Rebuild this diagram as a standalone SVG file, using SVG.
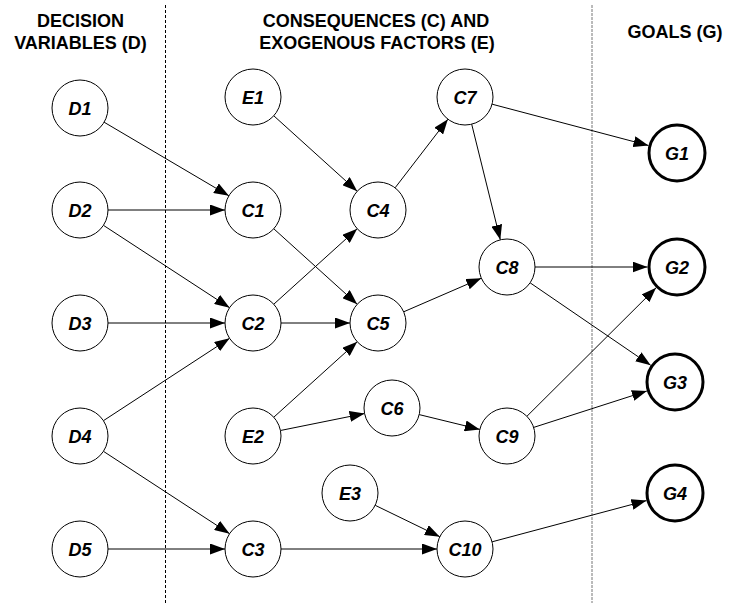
<svg xmlns="http://www.w3.org/2000/svg" width="730" height="605" viewBox="0 0 730 605">
<style>
.hdr{font-family:"Liberation Sans",Arial,sans-serif;font-size:18px;font-weight:bold;fill:#000;text-anchor:middle}
.n circle{fill:#fff;stroke:#000;stroke-width:1}
.g circle{fill:#fff;stroke:#000;stroke-width:3}
.lbl{font-family:"Liberation Sans",Arial,sans-serif;font-size:18px;font-weight:bold;font-style:italic;fill:#000;text-anchor:middle}
.e{stroke:#000;stroke-width:1;fill:none;marker-end:url(#ah)}
</style>
<defs>
<marker id="ah" markerUnits="userSpaceOnUse" markerWidth="15" markerHeight="11" refX="15" refY="5.5" orient="auto">
<path d="M0,0 L15,5.5 L0,11 z" fill="#000"/>
</marker>
</defs>
<rect width="730" height="605" fill="#fff"/>
<line x1="165.5" y1="5" x2="165.5" y2="603" stroke="#000" stroke-width="1" stroke-dasharray="3,2"/>
<line x1="592" y1="5" x2="592" y2="603" stroke="#777" stroke-width="1" stroke-dasharray="3,1"/>
<text class="hdr" x="80.5" y="27">DECISION</text>
<text class="hdr" x="80.5" y="49">VARIABLES (D)</text>
<text class="hdr" x="376" y="27">CONSEQUENCES (C) AND</text>
<text class="hdr" x="377" y="49">EXOGENOUS FACTORS (E)</text>
<text class="hdr" x="675" y="38">GOALS (G)</text>
<g id="connectors">
<line class="e" x1="104.1" y1="122.2" x2="228.9" y2="195.8"/>
<line class="e" x1="108" y1="210" x2="225" y2="210"/>
<line class="e" x1="103.4" y1="225.3" x2="229.6" y2="307.7"/>
<line class="e" x1="108" y1="323" x2="225" y2="323"/>
<line class="e" x1="103.4" y1="420.7" x2="229.6" y2="338.3"/>
<line class="e" x1="103.4" y1="451.3" x2="229.6" y2="533.7"/>
<line class="e" x1="108" y1="549" x2="225" y2="549"/>
<line class="e" x1="273.8" y1="115.8" x2="357.2" y2="191.2"/>
<line class="e" x1="273.8" y1="304.2" x2="357.2" y2="228.8"/>
<line class="e" x1="273.8" y1="228.8" x2="357.2" y2="304.2"/>
<line class="e" x1="281" y1="323" x2="350" y2="323"/>
<line class="e" x1="273.8" y1="417.2" x2="357.2" y2="341.8"/>
<line class="e" x1="280.4" y1="430.5" x2="364.6" y2="413.5"/>
<line class="e" x1="395.1" y1="187.8" x2="447.9" y2="119.2"/>
<line class="e" x1="492.1" y1="104.2" x2="648.5" y2="145.5"/>
<line class="e" x1="471.7" y1="124.2" x2="500.3" y2="239.8"/>
<line class="e" x1="403.7" y1="311.8" x2="481.3" y2="278.2"/>
<line class="e" x1="535" y1="267" x2="647.5" y2="267"/>
<line class="e" x1="530.1" y1="282.8" x2="650.7" y2="365.3"/>
<line class="e" x1="419.2" y1="414.6" x2="479.8" y2="429.4"/>
<line class="e" x1="526.9" y1="416.3" x2="656.1" y2="287.8"/>
<line class="e" x1="533.7" y1="427.4" x2="646.9" y2="391"/>
<line class="e" x1="375.2" y1="505.3" x2="439.8" y2="536.7"/>
<line class="e" x1="281" y1="549" x2="437" y2="549"/>
<line class="e" x1="492.1" y1="541.8" x2="646.5" y2="500.6"/>
</g>
<g id="D1" class="n"><circle cx="80" cy="108" r="28"/><text class="lbl" x="80" y="114.5">D1</text></g>
<g id="D2" class="n"><circle cx="80" cy="210" r="28"/><text class="lbl" x="80" y="216.5">D2</text></g>
<g id="D3" class="n"><circle cx="80" cy="323" r="28"/><text class="lbl" x="80" y="329.5">D3</text></g>
<g id="D4" class="n"><circle cx="80" cy="436" r="28"/><text class="lbl" x="80" y="442.5">D4</text></g>
<g id="D5" class="n"><circle cx="80" cy="549" r="28"/><text class="lbl" x="80" y="555.5">D5</text></g>
<g id="E1" class="n"><circle cx="253" cy="97" r="28"/><text class="lbl" x="253" y="103.5">E1</text></g>
<g id="C1" class="n"><circle cx="253" cy="210" r="28"/><text class="lbl" x="253" y="216.5">C1</text></g>
<g id="C2" class="n"><circle cx="253" cy="323" r="28"/><text class="lbl" x="253" y="329.5">C2</text></g>
<g id="E2" class="n"><circle cx="253" cy="436" r="28"/><text class="lbl" x="253" y="442.5">E2</text></g>
<g id="C3" class="n"><circle cx="253" cy="549" r="28"/><text class="lbl" x="253" y="555.5">C3</text></g>
<g id="C4" class="n"><circle cx="378" cy="210" r="28"/><text class="lbl" x="378" y="216.5">C4</text></g>
<g id="C5" class="n"><circle cx="378" cy="323" r="28"/><text class="lbl" x="378" y="329.5">C5</text></g>
<g id="C6" class="n"><circle cx="392" cy="408" r="28"/><text class="lbl" x="392" y="414.5">C6</text></g>
<g id="E3" class="n"><circle cx="350" cy="493" r="28"/><text class="lbl" x="350" y="499.5">E3</text></g>
<g id="C7" class="n"><circle cx="465" cy="97" r="28"/><text class="lbl" x="465" y="103.5">C7</text></g>
<g id="C8" class="n"><circle cx="507" cy="267" r="28"/><text class="lbl" x="507" y="273.5">C8</text></g>
<g id="C9" class="n"><circle cx="507" cy="436" r="28"/><text class="lbl" x="507" y="442.5">C9</text></g>
<g id="C10" class="n"><circle cx="465" cy="549" r="28"/><text class="lbl" x="465" y="555.5">C10</text></g>
<g id="G1" class="g"><circle cx="677" cy="153" r="28"/><text class="lbl" x="677" y="159.5">G1</text></g>
<g id="G2" class="g"><circle cx="677" cy="267" r="28"/><text class="lbl" x="677" y="273.5">G2</text></g>
<g id="G3" class="g"><circle cx="675" cy="382" r="28"/><text class="lbl" x="675" y="388.5">G3</text></g>
<g id="G4" class="g"><circle cx="675" cy="493" r="28"/><text class="lbl" x="675" y="499.5">G4</text></g>
</svg>
